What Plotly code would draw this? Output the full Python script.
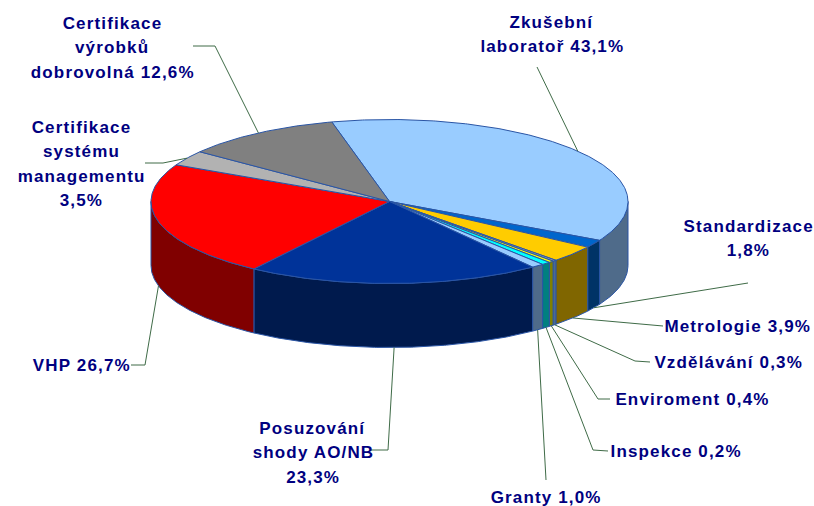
import math
import plotly.graph_objects as go

# ---- data -------------------------------------------------------------
categories = ["Zkušební laboratoř", "Standardizace", "Metrologie", "Vzdělávání", "Enviroment",
              "Inspekce", "Granty", "Posuzování shody AO/NB", "VHP",
              "Certifikace systému managementu", "Certifikace výrobků dobrovolná"]
# slice sizes (the printed percentages sum to more than 100)
values = [43.1, 1.8, 3.9, 0.3, 0.4, 0.7, 1.0, 23.3, 26.7, 3.5, 12.6]
label_lines = [
    ["Zkušební", "laboratoř 43,1%"],
    ["Standardizace", "1,8%"],
    ["Metrologie 3,9%"],
    ["Vzdělávání 0,3%"],
    ["Enviroment 0,4%"],
    ["Inspekce 0,2%"],
    ["Granty 1,0%"],
    ["Posuzování", "shody AO/NB", "23,3%"],
    ["VHP 26,7%"],
    ["Certifikace", "systému", "managementu", "3,5%"],
    ["Certifikace", "výrobků", "dobrovolná 12,6%"],
]

# ---- style / layout ----------------------------------------------------
top_colors = ["#99CCFF", "#0066CC", "#FFCC00", "#8C9CB0", "#FFFF00", "#00FFFF", "#99CCFF",
              "#003399", "#FF0000", "#B2B2B2", "#808080"]
side_colors = ["#4F6B8A", "#003366", "#806600", "#4F6B8A", "#808000", "#008080", "#4F6B8A",
               "#001A4D", "#800000", "#5A5A5A", "#404040"]
EDGE = "#2A55A5"
LEADER = "#3F6B47"
TEXT = "#000080"
CX, CY, RX, RY, DEPTH = 389.5, 201.5, 238.5, 82, 64
START = -14
FONT = dict(family="Liberation Sans", size=17, color=TEXT)
LINE_H = 24.5
# text centre x, first-line y
label_pos = [(552, 22), (748, 226), (737, 326), (728, 362), (692, 399), (676, 451), (546, 497),
             (313, 428), (82, 365), (81, 127), (112, 23)]
# leader: True if attached to bottom rim, then waypoints towards the label
leader_bottom = [False, True, True, True, True, True, True, True, True, False, False]
leader_way = [
    [(537, 67)],
    [(748, 283)],
    [(645, 325), (663, 326)],
    [(635, 361), (650, 362)],
    [(598, 399), (610, 399)],
    [(593, 450), (608, 451)],
    [(546, 480)],
    [(388, 450), (370, 450)],
    [(145, 365), (131, 365)],
    [(163, 163), (145, 163)],
    [(215, 46), (193, 46)],
]


def pt(a, dy=0):
    r = math.radians(a)
    return CX + RX * math.sin(r), CY - RY * math.cos(r) + dy


def arc(a0, a1, dy=0):
    n = max(2, int(abs(a1 - a0) * 2) + 1)
    return [pt(a0 + (a1 - a0) * i / (n - 1), dy) for i in range(n)]


total = sum(values)
spans = []
a = START
for v in values:
    spans.append((a, a + v / total * 360))
    a += v / total * 360

fig = go.Figure()


def poly(pts, fill):
    fig.add_trace(go.Scatter(x=[p[0] for p in pts] + [pts[0][0]], y=[p[1] for p in pts] + [pts[0][1]],
                             mode="lines", fill="toself", fillcolor=fill,
                             line=dict(color=EDGE, width=1), hoverinfo="skip", showlegend=False))


# side walls
for (a0, a1), c in zip(spans, side_colors):
    lo, hi = max(a0, 90), min(a1, 270)
    if hi > lo:
        poly(arc(lo, hi) + arc(hi, lo, DEPTH), c)
# top faces
for (a0, a1), c in zip(spans, top_colors):
    poly([(CX, CY)] + arc(a0, a1), c)

# leader lines
for (a0, a1), bottom, way in zip(spans, leader_bottom, leader_way):
    s = pt((a0 + a1) / 2, DEPTH if bottom else 0)
    pts = [s] + way
    fig.add_trace(go.Scatter(x=[p[0] for p in pts], y=[p[1] for p in pts], mode="lines",
                             line=dict(color=LEADER, width=1), hoverinfo="skip", showlegend=False))

# labels
for lines, (x, y) in zip(label_lines, label_pos):
    for i, t in enumerate(lines):
        fig.add_annotation(x=x, y=y + i * LINE_H, text=f"<b>{t}</b>", showarrow=False,
                           xanchor="center", yanchor="middle", font=FONT)

fig.update_xaxes(range=[0, 814], visible=False, fixedrange=True)
fig.update_yaxes(range=[506, 0], visible=False, fixedrange=True)
fig.update_layout(width=814, height=506, margin=dict(l=0, r=0, t=0, b=0),
                  paper_bgcolor="white", plot_bgcolor="white", showlegend=False)
post = ("document.body.style.margin='0';"
        "var s=document.createElement('style');"
        "s.textContent='.annotation-text{letter-spacing:1.15px}';"
        "document.head.appendChild(s);")
fig.write_html("out.html", config=dict(displayModeBar=False), post_script=post)
